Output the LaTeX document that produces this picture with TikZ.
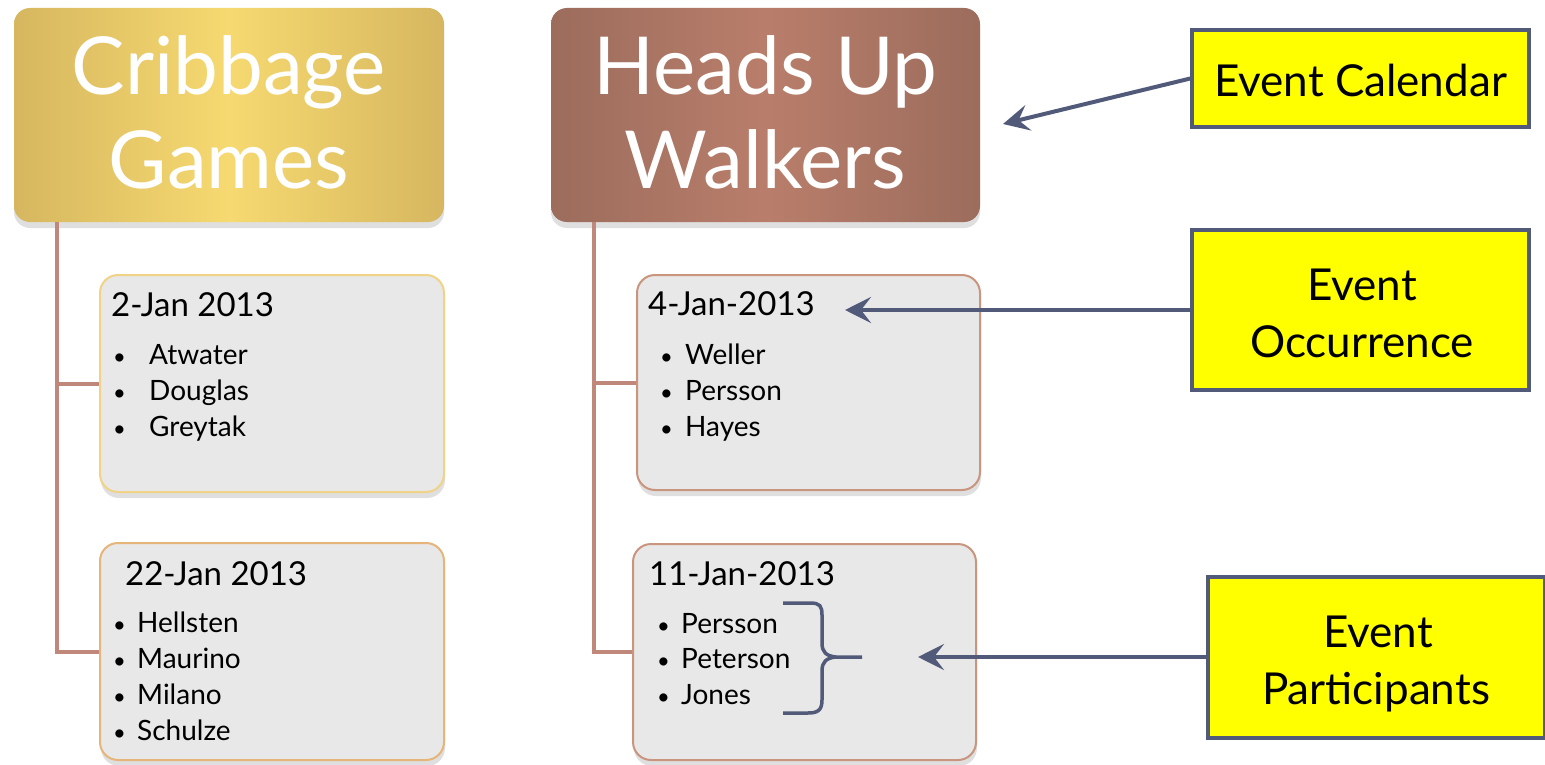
\documentclass[tikz,border=0pt]{standalone}
\usepackage{fontspec}
\setmainfont{Lato}
\usetikzlibrary{shadows,arrows.meta}
\definecolor{goldL}{HTML}{D6B760}
\definecolor{goldM}{HTML}{F6D970}
\definecolor{brownL}{HTML}{9C6C5C}
\definecolor{brownM}{HTML}{B97E6B}
\definecolor{cardfill}{HTML}{E8E8E8}
\definecolor{goldedge}{HTML}{F0D386}
\definecolor{orangeedge}{HTML}{E6B57A}
\definecolor{brownedge}{HTML}{C9957F}
\definecolor{connclr}{HTML}{C0887A}
\definecolor{arrclr}{HTML}{525A7A}
\definecolor{note}{HTML}{FFFF00}
\tikzset{
  header/.style={rounded corners=16pt, minimum width=#1, minimum height=214pt, inner sep=0pt,
     drop shadow={shadow xshift=0pt, shadow yshift=-6pt, opacity=0.25}},
  goldhead/.style={header=430pt, left color=goldL, right color=goldL, middle color=goldM},
  brownhead/.style={header=429pt, left color=brownL, right color=brownL, middle color=brownM},
  card/.style={rounded corners=18pt, fill=cardfill, draw=#1, line width=2pt, inner sep=0pt,
     minimum width=344pt, minimum height=217pt,
     drop shadow={shadow xshift=1pt, shadow yshift=-6pt, opacity=0.25}},
  headtxt/.style={text=white, anchor=base, inner sep=0pt, font=\fontsize{80}{80}\selectfont},
  datetxt/.style={anchor=base west, inner sep=0pt, font=\fontsize{33}{33}\selectfont},
  itemtxt/.style={anchor=base west, inner sep=0pt, font=\fontsize{28}{28}\selectfont},
  bul/.style={anchor=base west, inner sep=0pt, font=\fontsize{22}{22}\selectfont},
  conn/.style={draw=connclr, line width=4pt},
  notebox/.style={fill=note, draw=arrclr, line width=3.5pt, minimum width=337pt, inner sep=0pt},
  notetxt/.style={anchor=base, inner sep=0pt, font=\fontsize{44}{44}\selectfont},
  arr/.style={draw=arrclr, line width=4pt, -{Stealth[length=26pt, width=26pt, inset=10pt]}},
}
\begin{document}
\begin{tikzpicture}[x=1pt,y=-1pt]
\useasboundingbox (0,0) rectangle (1545,765);
\fill[white] (0,0) rectangle (1545,765);

% connectors
\coordinate (t1) at (57,222);
\coordinate (t2) at (594,222);

% headers
\node[goldhead] (hd1) at (229,115) {};
\node[brownhead] (hd2) at (765.5,115) {};
\node[headtxt] (hd1a) at (229,95) {Cribbage};
\node[headtxt] (hd1b) at (229,188) {Games};
\node[headtxt] (hd2a) at (765.5,95) {Heads Up};
\node[headtxt] (hd2b) at (765.5,188) {Walkers};

% cards
\node[card=goldedge] (c1) at (272,383.5) {};
\node[card=orangeedge] (c2) at (272,651.5) {};
\node[card=brownedge, minimum width=343pt, minimum height=215pt] (h1) at (808.5,382.5) {};
\node[card=brownedge, minimum width=343pt, minimum height=216pt] (h2) at (804.5,652) {};

\draw[conn] (t1) |- (c2.west);
\draw[conn] (t1 |- c1.west) -- (c1.west);
\draw[conn] (t2) |- (h2.west);
\draw[conn] (t2 |- h1.west) -- (h1.west);

% card texts
\node[datetxt] (c1d) at (111,316) {2-Jan 2013};
\node[bul] (c1b1) at (113,364) {•};
\node[itemtxt] (c1i1) at (149,364) {Atwater};
\node[bul] (c1b2) at (113,400) {•};
\node[itemtxt] (c1i2) at (149,400) {Douglas};
\node[bul] (c1b3) at (113,436) {•};
\node[itemtxt] (c1i3) at (149,436) {Greytak};

\node[datetxt] (c2d) at (125,585) {22-Jan 2013};
\node[bul] (c2b1) at (113,632) {•};
\node[itemtxt] (c2i1) at (137,632) {Hellsten};
\node[bul] (c2b2) at (113,668) {•};
\node[itemtxt] (c2i2) at (137,668) {Maurino};
\node[bul] (c2b3) at (113,704) {•};
\node[bul] (c2b4) at (113,740) {•};
\node[itemtxt] (c2i3) at (137,704) {Milano};
\node[itemtxt] (c2i4) at (137,740) {Schulze};

\node[datetxt] (h1d) at (648,315) {4-Jan-2013};
\node[bul] (h1b1) at (660,364) {•};
\node[itemtxt] (h1i1) at (685,364) {Weller};
\node[bul] (h1b2) at (660,400) {•};
\node[itemtxt] (h1i2) at (685,400) {Persson};
\node[bul] (h1b3) at (660,436) {•};
\node[itemtxt] (h1i3) at (685,436) {Hayes};

\node[datetxt] (h2d) at (649,585) {11-Jan-2013};
\node[bul] (h2b1) at (657,633) {•};
\node[itemtxt] (h2i1) at (681,633) {Persson};
\node[bul] (h2b2) at (657,668) {•};
\node[itemtxt] (h2i2) at (681,668) {Peterson};
\node[bul] (h2b3) at (657,704) {•};
\node[itemtxt] (h2i3) at (681,704) {Jones};

% brace
\coordinate (brtip) at (862,657);
\draw[draw=arrclr, line width=3.5pt]
  (783,603) -- (810,603) .. controls (820,603) and (822,606) .. (822,615) -- (822,643)
  .. controls (822,652) and (826,656) .. (836,657) -- (brtip);
\draw[draw=arrclr, line width=3.5pt]
  (836,657) .. controls (826,658) and (822,662) .. (822,671) -- (822,700)
  .. controls (822,710) and (818,713) .. (808,713) -- (783,713);

% notes
\node[notebox, minimum height=97pt] (ec) at (1360.5,78.5) {};
\node[notetxt] (ect) at (1360.5,97) {Event Calendar};
\node[notebox, minimum height=160pt] (eo) at (1360.5,310) {};
\node[notetxt] (eot1) at (1362,300) {Event};
\node[notetxt] (eot2) at (1362,357) {Occurrence};
\node[notebox, minimum height=161pt] (ep) at (1376.5,657.5) {};
\node[notetxt] (ept1) at (1378,647) {Event};
\node[notetxt] (ept2) at (1376,704) {Participants};

% arrows
\coordinate (ecT) at (1003,124);
\coordinate (eoT) at (845,310);
\coordinate (epT) at (918,657);
\draw[arr] (ec.west) -- (ecT);
\draw[arr] (eo.west) -- (eoT);
\draw[arr] (ep.west |- epT) -- (epT);
\end{tikzpicture}
\end{document}
